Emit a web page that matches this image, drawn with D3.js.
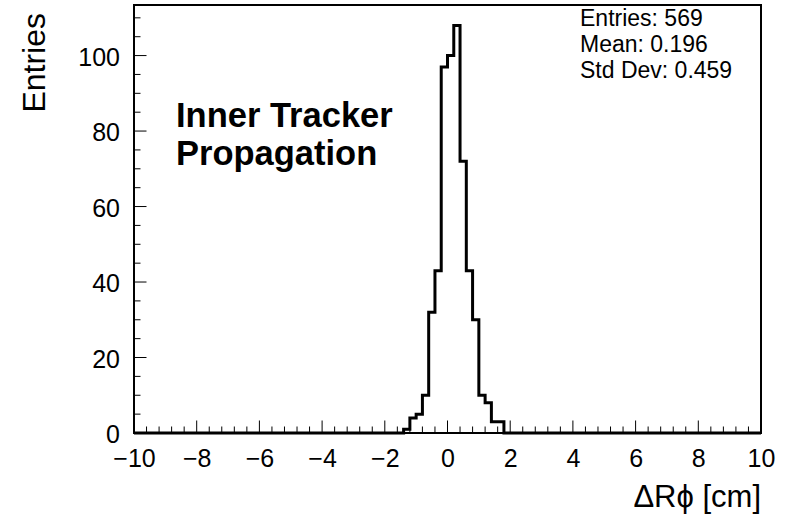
<!DOCTYPE html>
<html>
<head>
<meta charset="utf-8">
<script src="https://cdn.jsdelivr.net/npm/d3@7"></script>
<style>
  body { margin: 0; background: #fff; }
  svg text { font-family: "Liberation Sans", Arial, Helvetica, sans-serif; fill: #000; }
</style>
</head>
<body>
<div id="root"></div>
<script>
// histogram bins (lower edge, width 0.2) with their counts
var binLow = [-1.4, -1.2, -1.0, -0.8, -0.6, -0.4, -0.2, 0.0, 0.2, 0.4, 0.6, 0.8, 1.0, 1.2, 1.4, 1.6]
var counts = [1, 4, 5, 10, 32, 43, 97, 100, 108, 72, 43, 30, 10, 8, 3, 3]
var binWidth = 0.2

var xTicks = [-10, -8, -6, -4, -2, 0, 2, 4, 6, 8, 10]
var yTicks = [0, 20, 40, 60, 80, 100]
var statLines = ["Entries: 569", "Mean: 0.196", "Std Dev: 0.459"]
var labelLines = ["Inner Tracker", "Propagation"]

var width = 792, height = 521
var margin = ({ top: 5, right: 31, bottom: 88, left: 134 })

var svg = d3.select("#root").append("svg")
  .attr("width", width)
  .attr("height", height)

var x = d3.scaleLinear()
  .domain([-10, 10])
  .range([margin.left, width - margin.right])

var y = d3.scaleLinear()
  .domain([0, d3.max(counts) * 1.05])
  .range([height - margin.bottom, margin.top])

// x axis: major ticks every 2, minor every 0.4, drawn inside the frame
var xAxis = d3.axisBottom(x).tickValues(xTicks).tickSize(0).tickFormat(d => d < 0 ? "\u2212" + Math.abs(d) : d)
var gx = svg.append("g")
  .attr("transform", "translate(0," + y(0) + ")")
  .call(xAxis)
gx.select(".domain").remove()
gx.selectAll("text")
  .attr("y", 0)
  .attr("dy", 34)
  .style("font-size", "25px")

svg.append("g").selectAll("line")
  .data(d3.range(-10, 10.001, 0.4))
  .enter().append("line")
  .attr("x1", d => x(d)).attr("x2", d => x(d))
  .attr("y1", y(0))
  .attr("y2", d => Math.abs(d / 2 - Math.round(d / 2)) < 1e-6 ? y(0) - 12.5 : y(0) - 6.5)
  .attr("stroke", "#000").attr("stroke-width", 1)

// y axis: major every 20, minor every 5
var yAxis = d3.axisLeft(y).tickValues(yTicks).tickSize(0)
var gy = svg.append("g")
  .attr("transform", "translate(" + x(-10) + ",0)")
  .call(yAxis)
gy.select(".domain").remove()
gy.selectAll("text")
  .attr("x", -14)
  .attr("dy", "0.38em")
  .style("font-size", "25px")

svg.append("g").selectAll("line")
  .data(d3.range(0, 111, 5))
  .enter().append("line")
  .attr("x1", x(-10))
  .attr("x2", d => d % 20 === 0 ? x(-10) + 12.5 : x(-10) + 6.5)
  .attr("y1", d => y(d)).attr("y2", d => y(d))
  .attr("stroke", "#000").attr("stroke-width", 1)

// histogram outline (step line, no inner bar edges), empty bins lie on zero
var pts = [[x(-10), y(0)], [x(binLow[0]), y(0)]]
binLow.forEach(function(b, i) {
  pts.push([x(b), y(counts[i])])
  pts.push([x(b + binWidth), y(counts[i])])
})
pts.push([x(binLow[binLow.length - 1] + binWidth), y(0)])
pts.push([x(10), y(0)])

svg.append("path")
  .attr("d", d3.line()(pts))
  .attr("fill", "none")
  .attr("stroke", "#000")
  .attr("stroke-width", 3)
  .attr("stroke-linejoin", "miter")

// frame
svg.append("rect")
  .attr("x", x(-10)).attr("y", y.range()[1])
  .attr("width", x(10) - x(-10))
  .attr("height", y(0) - y.range()[1])
  .attr("fill", "none")
  .attr("stroke", "#000")
  .attr("stroke-width", 2)

// axis titles
svg.append("text")
  .attr("text-anchor", "end")
  .attr("x", x(10))
  .attr("y", 507)
  .style("font-size", "31px")
  .text("\u0394R\u03d5 [cm]")

svg.append("text")
  .attr("text-anchor", "end")
  .attr("transform", "translate(45,13) rotate(-90)")
  .style("font-size", "32px")
  .text("Entries")

// stats box
svg.append("g").selectAll("text")
  .data(statLines)
  .enter().append("text")
  .attr("x", 580)
  .attr("y", (d, i) => 26 + i * 26)
  .style("font-size", "23px")
  .text(d => d)

// label
svg.append("g").selectAll("text")
  .data(labelLines)
  .enter().append("text")
  .attr("x", 176)
  .attr("y", (d, i) => 127 + i * 38)
  .style("font-size", "34.5px")
  .style("font-weight", "bold")
  .text(d => d)
</script>
</body>
</html>
